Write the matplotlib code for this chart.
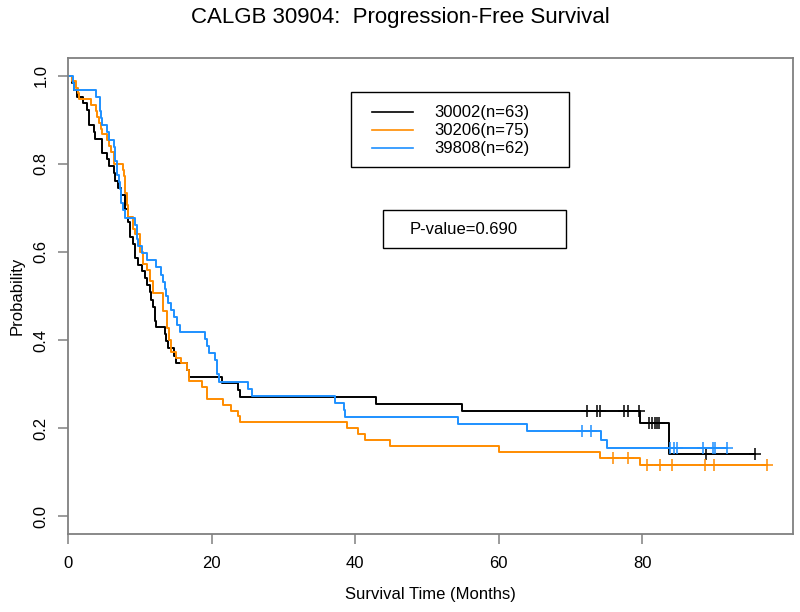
import numpy as np
import matplotlib
matplotlib.use('Agg')
import matplotlib.pyplot as plt
from matplotlib.patches import Rectangle
from matplotlib.lines import Line2D

plt.rcParams['font.family'] = ['Liberation Sans', 'DejaVu Sans']

# Kaplan-Meier step curves: event times (months) and survival after each step
labels = ['30002(n=63)', '30206(n=75)', '39808(n=62)']
colors = ['#000000', '#FF8C00', '#1E90FF']

t_30002 = [0.5, 0.8, 1.3, 2.1, 2.6, 2.9, 3.6, 3.8, 4.7, 4.8, 5.4, 5.7, 6.4, 6.6, 7.0, 7.4,
           7.9, 8.4, 8.6, 9.1, 9.3, 9.8, 10.3, 10.7, 11.0, 11.4, 11.6, 11.9, 12.1, 12.3,
           13.5, 13.7, 13.9, 14.8, 15.0, 16.6, 16.9, 21.4, 23.7, 24.0, 42.9, 54.9, 79.7, 83.7]
s_30002 = [0.984, 0.968, 0.952, 0.937, 0.921, 0.889, 0.873, 0.857, 0.841, 0.825, 0.810, 0.794,
           0.778, 0.762, 0.746, 0.730, 0.698, 0.667, 0.635, 0.619, 0.587, 0.571, 0.556, 0.540,
           0.524, 0.508, 0.492, 0.476, 0.444, 0.429, 0.413, 0.397, 0.381, 0.365, 0.349, 0.333,
           0.317, 0.302, 0.286, 0.270, 0.254, 0.238, 0.212, 0.141]
c_30002 = [72.3, 73.7, 74.1, 77.5, 78.0, 79.6, 80.9, 81.3, 81.8, 82.1, 82.4, 88.9, 95.7]
end_30002 = 95.7

t_30206 = [0.6, 1.1, 1.35, 1.6, 3.16, 3.85, 4.1, 4.3, 4.55, 4.8, 5.5, 5.7, 5.95, 6.4, 7.6, 7.8,
           8.0, 8.2, 8.4, 9.1, 9.34, 10.0, 10.5, 11.0, 11.4, 11.9, 13.3, 13.8, 14.1, 14.4, 15.0,
           15.7, 16.6, 16.9, 18.7, 19.3, 21.6, 22.7, 23.7, 24.0, 38.8, 40.4, 41.4, 44.9, 60.0,
           74.1, 79.7]
s_30206 = [0.987, 0.973, 0.960, 0.947, 0.933, 0.920, 0.907, 0.893, 0.880, 0.867, 0.853, 0.840,
           0.827, 0.800, 0.787, 0.773, 0.733, 0.707, 0.680, 0.653, 0.640, 0.600, 0.573, 0.560,
           0.533, 0.507, 0.467, 0.427, 0.400, 0.373, 0.360, 0.347, 0.333, 0.307, 0.293, 0.267,
           0.253, 0.240, 0.227, 0.213, 0.200, 0.187, 0.173, 0.160, 0.147, 0.133, 0.117]
c_30206 = [75.9, 78.0, 80.6, 82.5, 84.1, 88.8, 90.0, 97.4]
end_30206 = 97.4

t_39808 = [0.7, 0.9, 3.9, 4.46, 4.6, 4.8, 5.5, 5.7, 6.4, 6.6, 6.8, 7.05, 7.3, 7.4, 7.7, 7.9,
           9.3, 9.6, 9.8, 10.3, 11.0, 12.3, 13.0, 13.2, 13.5, 13.7, 14.0, 14.4, 14.7, 15.2, 15.6,
           19.1, 19.3, 19.6, 20.5, 20.7, 21.0, 25.1, 25.6, 37.2, 38.4, 38.6, 54.3, 63.9, 74.2, 75.1]
s_39808 = [0.984, 0.968, 0.952, 0.919, 0.903, 0.887, 0.871, 0.855, 0.839, 0.806, 0.774, 0.758,
           0.742, 0.710, 0.694, 0.677, 0.661, 0.629, 0.613, 0.597, 0.581, 0.565, 0.548, 0.532,
           0.516, 0.500, 0.484, 0.468, 0.452, 0.435, 0.419, 0.403, 0.387, 0.371, 0.355, 0.323,
           0.306, 0.290, 0.274, 0.258, 0.242, 0.226, 0.209, 0.193, 0.174, 0.155]
c_39808 = [71.6, 72.8, 83.9, 84.4, 84.8, 88.5, 89.9, 90.2, 91.8]
end_39808 = 91.8

xticks = [0, 20, 40, 60, 80]
yticks = [0.0, 0.2, 0.4, 0.6, 0.8, 1.0]
pvalue_text = 'P-value=0.690'

W, H = 800, 612
fig = plt.figure(figsize=(W / 100, H / 100), dpi=100)
ax = fig.add_axes([68 / W, 1 - 534 / H, 725 / W, 476 / H])

curves = [(t_30002, s_30002, c_30002, end_30002),
          (t_30206, s_30206, c_30206, end_30206),
          (t_39808, s_39808, c_39808, end_39808)]

for (t, s, cens, end), col in zip(curves, colors):
    tt = np.array([0.0] + list(t) + [end])
    ss = np.array([1.0] + list(s) + [s[-1]])
    ax.step(tt, ss, where='post', color=col, lw=1.4, clip_on=False)
    # censor marks (plus signs) sit on the curve
    idx = np.searchsorted(tt, cens, side='right') - 1
    ax.plot(cens, ss[idx], linestyle='none', marker='+', markersize=9,
            markeredgewidth=1.1, color=col, clip_on=False)

ax.set_xlim(0, 101)
ax.set_ylim(-0.04, 1.04)
ax.set_xticks(xticks)
ax.set_xticklabels([str(x) for x in xticks])
ax.set_yticks(yticks)
ax.set_yticklabels(['%.1f' % y for y in yticks], rotation=90, va='center')

for sp in ax.spines.values():
    sp.set_color('#808080')
    sp.set_linewidth(1.3)
ax.tick_params(axis='both', direction='out', length=7, width=1.1, color='#808080',
               labelsize=12, labelcolor='black')
ax.tick_params(axis='x', pad=9)
ax.tick_params(axis='y', pad=7)

fig.text(400 / W, 1 - 17 / H, 'CALGB 30904:  Progression-Free Survival',
         ha='center', va='center', fontsize=16)
fig.text(430 / W, 1 - 594 / H, 'Survival Time (Months)', ha='center', va='center', fontsize=12)
fig.text(17 / W, 1 - 296 / H, 'Probability', ha='center', va='center', rotation=90, fontsize=12)

# legend box
fig.add_artist(Rectangle((351 / W, 1 - 167 / H), 218 / W, 75 / H, transform=fig.transFigure,
                         fill=False, edgecolor='black', lw=1.0))
for i, (lab, col) in enumerate(zip(labels, colors)):
    yy = 1 - (112 + 18 * i) / H
    fig.add_artist(Line2D([372 / W, 413 / W], [yy, yy], transform=fig.transFigure,
                          color=col, lw=1.2))
    fig.text(434 / W, yy, lab, ha='left', va='center', fontsize=12)

# p-value box
fig.add_artist(Rectangle((383 / W, 1 - 248 / H), 183 / W, 38 / H, transform=fig.transFigure,
                         fill=False, edgecolor='black', lw=1.0))
fig.text(410 / W, 1 - 229 / H, pvalue_text, ha='left', va='center', fontsize=12)

fig.savefig('out.png', dpi=100)
